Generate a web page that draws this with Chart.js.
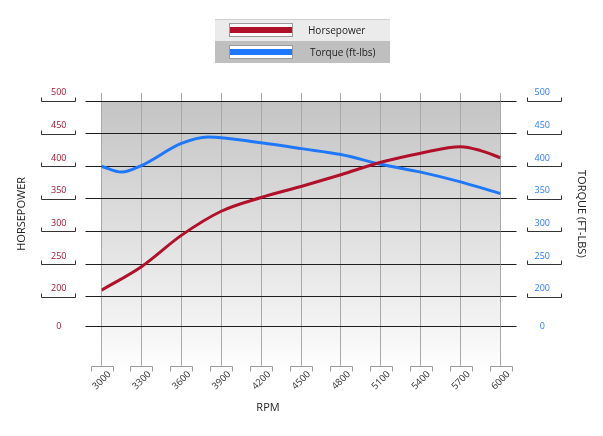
<!DOCTYPE html>
<html><head><meta charset="utf-8">
<script src="https://cdn.jsdelivr.net/npm/chart.js@4.4.1/dist/chart.umd.min.js"></script>
<style>html,body{margin:0;padding:0;background:#fff;}#wrap{width:603px;height:436px;position:relative;}</style>
</head><body><div id="wrap"><canvas id="c" width="603" height="436"></canvas></div>
<script>
const hpRpm = [3000,3300,3600,3900,4200,4500,4800,5100,5400,5700,5850,6000];
const horsepower = [210,246,294,331,352,369,387,406,420,430,424,413];
const tqRpm = [3000,3150,3300,3600,3800,4200,4500,4800,5100,5400,5700,6000];
const torque = [400,391,401,435,445,436,427,418,403,391,376,358];
const rpmTicks = [3000,3300,3600,3900,4200,4500,4800,5100,5400,5700,6000];
const valueTicks = [200,250,300,350,400,450,500];
const baseTickLabel = '0';
const seriesNames = ['Horsepower','Torque (ft-lbs)'];
const axisTitleX = 'RPM';
const axisTitleY = 'HORSEPOWER';
const axisTitleY2 = 'TORQUE (FT-LBS)';

const RED = '#b0102a', BLUE = '#1f78fb';
const Y_MIN = 154, Y_MAX = 500, X_TICK_LEN = 39;
const FONT = '"Open Sans", "DejaVu Sans", sans-serif';

const yTicksAll = [Y_MIN].concat(valueTicks);

const decor = {
  id: 'decor',
  beforeDraw(chart) {
    const ctx = chart.ctx, xs = chart.scales.x, ys = chart.scales.y;
    const l = xs.getPixelForValue(rpmTicks[0]), r = xs.getPixelForValue(rpmTicks[rpmTicks.length-1]);
    const t = ys.getPixelForValue(valueTicks[valueTicks.length-1]);
    const b = chart.chartArea.bottom + X_TICK_LEN + 4;
    const g = ctx.createLinearGradient(0, t, 0, b);
    g.addColorStop(0, '#c4c4c4');
    g.addColorStop(0.85, '#f4f4f4');
    g.addColorStop(1, '#ffffff');
    ctx.save(); ctx.fillStyle = g; ctx.fillRect(l, t, r - l, b - t); ctx.restore();
  },
  afterDraw(chart) {
    const ctx = chart.ctx, xs = chart.scales.x, ys = chart.scales.y;
    ctx.save();
    ctx.lineWidth = 1;
    ctx.strokeStyle = '#333';
    valueTicks.forEach(v => {
      const py = Math.round(ys.getPixelForValue(v)) + 0.5;
      [[41,75],[527,561]].forEach(([a,b]) => {
        ctx.beginPath();
        ctx.moveTo(a + 0.5, py - 4); ctx.lineTo(a + 0.5, py); ctx.lineTo(b + 0.5, py); ctx.lineTo(b + 0.5, py - 4);
        ctx.stroke();
      });
    });
    ctx.strokeStyle = '#9a9a9a';
    const yb = Math.round(chart.chartArea.bottom + X_TICK_LEN) + 0.5;
    rpmTicks.forEach(v => {
      const px = Math.round(xs.getPixelForValue(v));
      ctx.beginPath();
      ctx.moveTo(px - 11 + 0.5, yb + 5); ctx.lineTo(px - 11 + 0.5, yb); ctx.lineTo(px + 11 + 0.5, yb); ctx.lineTo(px + 11 + 0.5, yb + 5);
      ctx.stroke();
    });
    ctx.fillStyle = '#222';
    ctx.font = '11px ' + FONT;
    ctx.textAlign = 'center'; ctx.textBaseline = 'middle';
    ctx.fillText(axisTitleX, 268, 408);
    ctx.fillStyle = '#ebebeb'; ctx.fillRect(215, 19, 175, 22);
    ctx.fillStyle = '#bfbfbf'; ctx.fillRect(215, 41, 175, 22);
    ctx.strokeStyle = '#cfcfcf'; ctx.beginPath(); ctx.moveTo(215, 19.5); ctx.lineTo(390, 19.5); ctx.stroke();
    const colors = [RED, BLUE];
    [0,1].forEach(i => {
      const y0 = 23 + i * 22;
      ctx.fillStyle = '#fff'; ctx.fillRect(229, y0, 64, 14);
      ctx.strokeStyle = '#9a9a9a'; ctx.strokeRect(229.5, y0 + 0.5, 63, 13);
      ctx.fillStyle = colors[i]; ctx.fillRect(230, y0 + 4, 62, 6);
      ctx.fillStyle = '#222'; ctx.font = '10px ' + FONT; ctx.textAlign = 'left'; ctx.textBaseline = 'middle';
      ctx.fillText(seriesNames[i], i === 0 ? 308 : 310, y0 + 8);
    });
    ctx.restore();
  }
};

const yTickCb = v => v === Y_MIN ? baseTickLabel : [String(v), ''];
const setYTicks = s => { s.ticks = yTicksAll.map(v => ({value: v})); };
const setXTicks = s => { s.ticks = rpmTicks.map(v => ({value: v})); };

new Chart(document.getElementById('c'), {
  type: 'line',
  data: {
    datasets: [
      { label: seriesNames[0], data: hpRpm.map((x, i) => ({x, y: horsepower[i]})),
        borderColor: RED, borderWidth: 3, pointRadius: 0, cubicInterpolationMode: 'monotone', fill: false, xAxisID: 'x', yAxisID: 'y' },
      { label: seriesNames[1], data: tqRpm.map((x, i) => ({x, y: torque[i]})),
        borderColor: BLUE, borderWidth: 3, pointRadius: 0, cubicInterpolationMode: 'monotone', fill: false, xAxisID: 'x', yAxisID: 'y2' }
    ]
  },
  options: {
    responsive: false, animation: false, devicePixelRatio: 1,
    layout: { padding: { top: 93, left: 0, right: 0, bottom: 0 } },
    plugins: { legend: { display: false }, tooltip: { enabled: false } },
    scales: {
      x: {
        type: 'linear', position: 'bottom', min: 3000, max: 6000,
        afterBuildTicks: setXTicks,
        afterFit: s => { s.height = 109.3; },
        border: { display: false },
        grid: { color: '#a8a8a8', lineWidth: 1, tickLength: X_TICK_LEN, tickColor: '#a8a8a8' },
        ticks: { autoSkip: false, minRotation: 45, maxRotation: 45, padding: 3, labelOffset: 8,
                 color: '#333', font: { family: FONT, size: 9.5 }, callback: v => String(v) }
      },
      x2: {
        type: 'linear', position: 'top', min: 3000, max: 6000,
        afterBuildTicks: setXTicks,
        afterFit: s => { s.height = 8; },
        border: { display: false },
        grid: { drawOnChartArea: false, tickLength: 8, color: '#a8a8a8', tickColor: '#a8a8a8' },
        ticks: { display: false }
      },
      y: {
        type: 'linear', position: 'left', min: Y_MIN, max: Y_MAX,
        afterBuildTicks: setYTicks,
        afterFit: s => { s.width = 101.5; },
        border: { display: false },
        grid: { color: '#1e1e1e', lineWidth: 1, tickLength: 16, tickColor: '#1e1e1e' },
        ticks: { autoSkip: false, crossAlign: 'center', padding: 19, color: '#a3162c', font: { family: FONT, size: 9, lineHeight: 1.8 }, callback: yTickCb },
        title: { display: true, text: axisTitleY, color: '#222', font: { family: FONT, size: 11 }, padding: { top: 15.5, bottom: 0 } }
      },
      y2: {
        type: 'linear', position: 'right', min: Y_MIN, max: Y_MAX,
        afterBuildTicks: setYTicks,
        afterFit: s => { s.width = 102.5; },
        border: { display: false },
        grid: { drawOnChartArea: false, tickLength: 16, color: '#1e1e1e', tickColor: '#1e1e1e' },
        ticks: { autoSkip: false, crossAlign: 'center', padding: 18, color: '#2a7cf6', font: { family: FONT, size: 9, lineHeight: 1.8 }, callback: yTickCb },
        title: { display: true, text: axisTitleY2, color: '#222', font: { family: FONT, size: 11 }, padding: { top: 15, bottom: 0 } }
      }
    }
  },
  plugins: [decor]
});
</script></body></html>
